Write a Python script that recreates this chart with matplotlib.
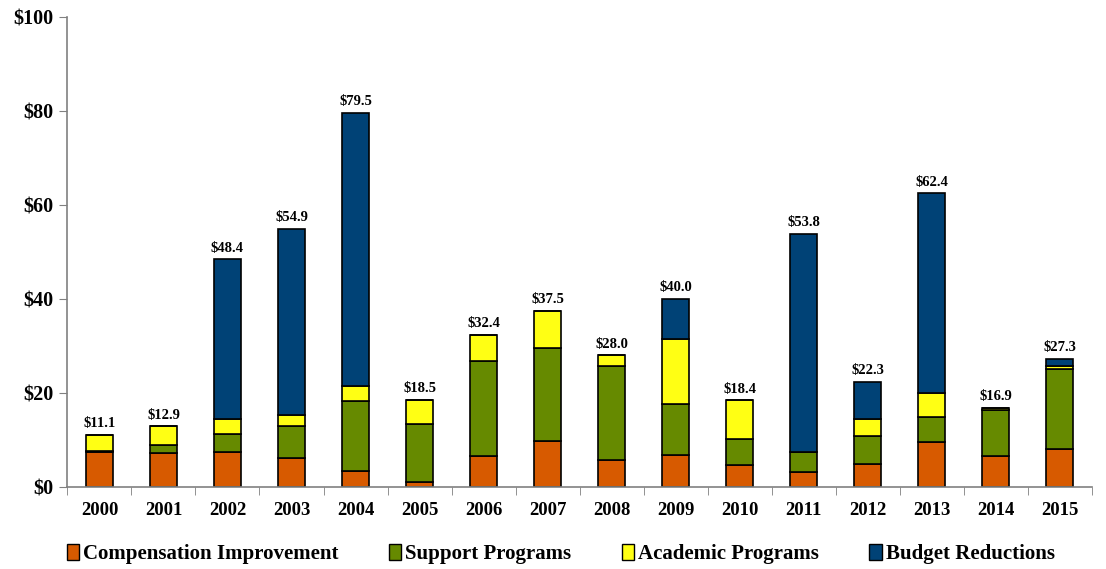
import numpy as np
import matplotlib
matplotlib.use("Agg")
import matplotlib.pyplot as plt
from matplotlib.patches import Patch

# data (in $ millions)
years = [str(y) for y in range(2000, 2016)]
compensation = [7.4, 7.2, 7.5, 6.2, 3.5, 1.0, 6.7, 9.7, 5.7, 6.9, 4.7, 3.2, 4.9, 9.6, 6.6, 8.0]
support = [0.2, 1.7, 3.7, 6.8, 14.7, 12.5, 20.0, 19.8, 20.0, 10.7, 5.6, 4.2, 5.9, 5.3, 9.7, 17.0]
academic = [3.5, 4.0, 3.2, 2.3, 3.3, 5.0, 5.7, 8.0, 2.3, 13.8, 8.1, 0.0, 3.6, 5.0, 0.6, 0.8]
budget = [0.0, 0.0, 34.0, 39.6, 58.0, 0.0, 0.0, 0.0, 0.0, 8.6, 0.0, 46.4, 7.9, 42.5, 0.0, 1.5]
totals = [11.1, 12.9, 48.4, 54.9, 79.5, 18.5, 32.4, 37.5, 28.0, 40.0, 18.4, 53.8, 22.3, 62.4, 16.9, 27.3]

series = [
    ("Compensation Improvement", compensation, "#D75A00"),
    ("Support Programs", support, "#668A00"),
    ("Academic Programs", academic, "#FFFF14"),
    ("Budget Reductions", budget, "#004276"),
]

serif = "Liberation Serif"

fig = plt.figure(figsize=(11.06, 5.69), dpi=100)
ax = fig.add_axes([0.061, 0.144, 0.926, 0.827])

x = np.arange(len(years))
bottom = np.zeros(len(years))
for name, vals, color in series:
    vals = np.array(vals)
    ax.bar(x, vals, width=0.41, bottom=bottom, color=color,
           edgecolor="black", linewidth=1.2, zorder=2)
    bottom += vals

for xi, t in zip(x, totals):
    ax.text(xi, t + 1.0, f"${t:.1f}", ha="center", va="bottom",
            fontsize=10.5, fontweight="bold", family=serif)

ax.set_xlim(-0.5, len(years) - 0.5)
ax.set_ylim(0, 100)
ax.set_yticks(range(0, 101, 20))
ax.set_yticklabels([f"${v}" for v in range(0, 101, 20)],
                   fontsize=14.5, fontweight="bold", family=serif)

# year labels centred, tick marks between categories
ax.set_xticks(x)
ax.set_xticklabels(years, fontsize=13.5, fontweight="bold", family=serif)
ax.tick_params(axis="x", length=0, pad=11)
ax.set_xticks(np.arange(-0.5, len(years), 1), minor=True)
ax.tick_params(axis="x", which="minor", length=6, color="#808080", direction="out")
ax.tick_params(axis="y", length=6, color="#808080", direction="out", pad=4)

for side in ["top", "right"]:
    ax.spines[side].set_visible(False)
for side in ["left", "bottom"]:
    ax.spines[side].set_color("#808080")
    ax.spines[side].set_linewidth(1.2)

handles = [Patch(facecolor=c, edgecolor="black", linewidth=1.0, label=n)
           for n, _, c in series]
fig.legend(handles=handles, loc="lower center", ncol=4, frameon=False,
           bbox_to_anchor=(0.507, -0.024), handlelength=0.6, handleheight=0.8,
           handletextpad=0.2, columnspacing=2.4,
           prop={"family": serif, "weight": "bold", "size": 15})

fig.savefig("out.png", dpi=100)
